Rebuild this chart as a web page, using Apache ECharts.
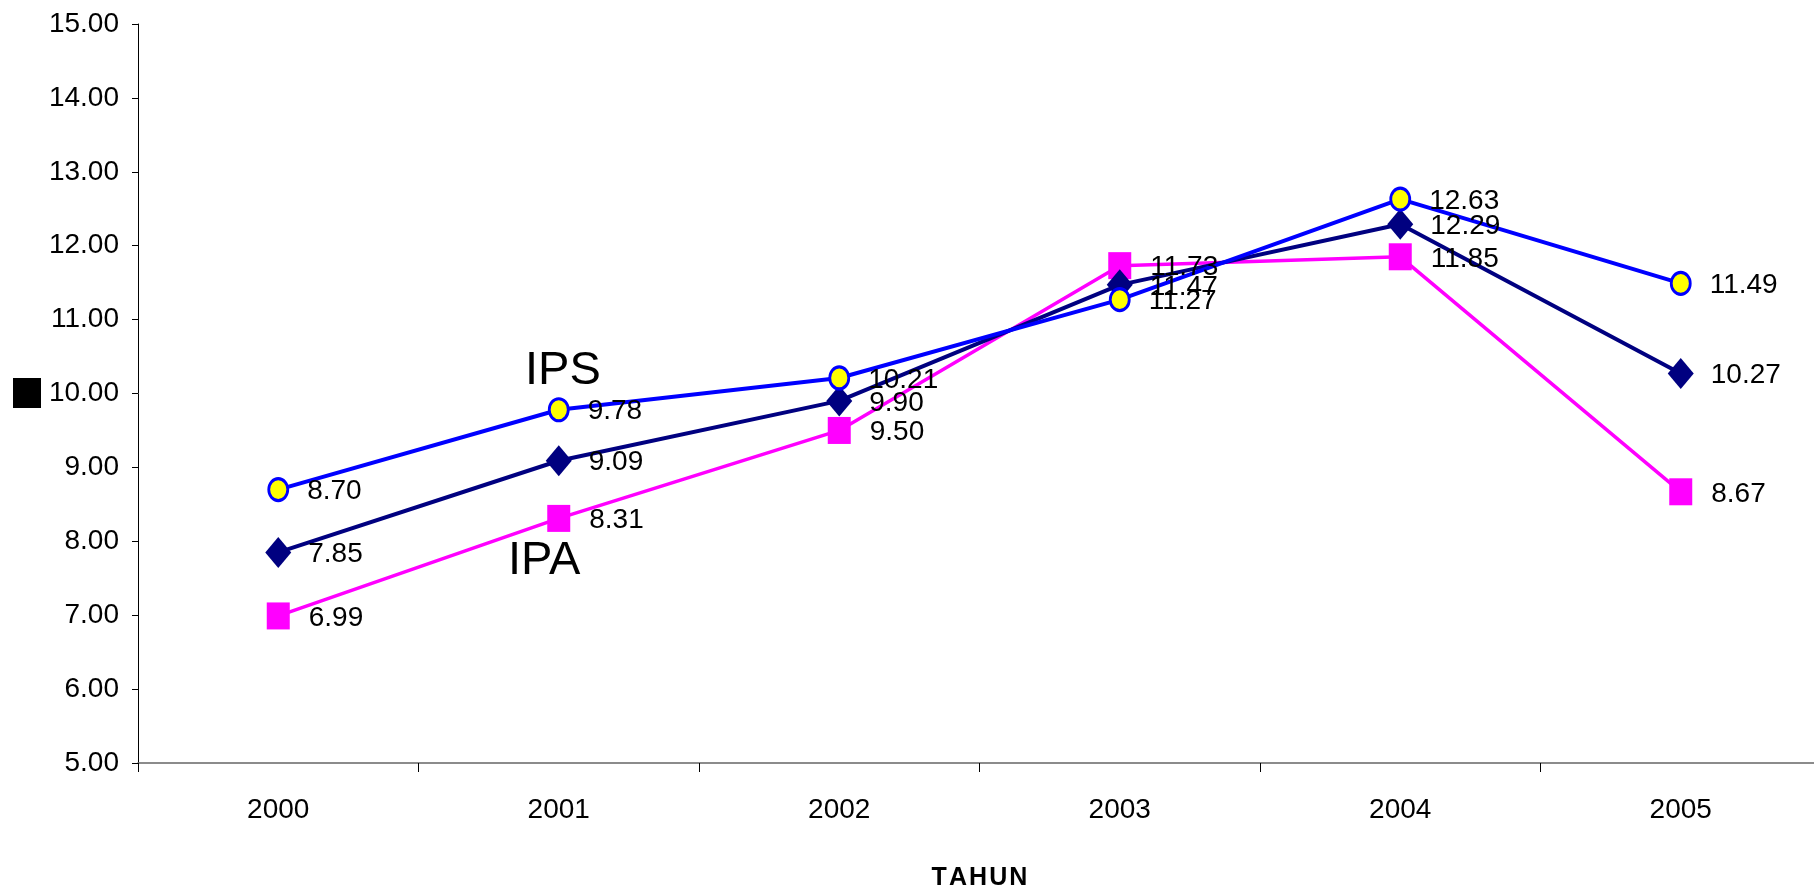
<!DOCTYPE html>
<html style="height: 100%">
<head>
    <meta charset="utf-8">
    <title>TAHUN</title>
    <style>
        body { margin: 0; height: 100%; background: #fff; }
        #chart { width: 1814px; height: 893px; }
    </style>
</head>
<body>
<div id="chart"></div>
<script src="https://cdn.jsdelivr.net/npm/echarts@6/dist/echarts.min.js"></script>
<script>
    // data
    const years = ['2000', '2001', '2002', '2003', '2004', '2005'];
    const ips = [8.70, 9.78, 10.21, 11.27, 12.63, 11.49];
    const total = [7.85, 9.09, 9.90, 11.47, 12.29, 10.27];
    const ipa = [6.99, 8.31, 9.50, 11.73, 11.85, 8.67];

    const FONT = '"Liberation Sans", Arial, sans-serif';

    const chart = echarts.init(document.getElementById('chart'));

    const labelStyle = (dist) => ({
        show: true,
        position: 'right',
        distance: dist,
        offset: [0, 2],
        color: '#000',
        fontFamily: FONT,
        fontSize: 28,
        formatter: p => p.value.toFixed(2)
    });

    chart.setOption({
        animation: false,
        grid: { left: 138, width: 1683, top: 24, height: 739, outerBoundsMode: 'none' },
        xAxis: {
            type: 'category',
            data: years,
            boundaryGap: true,
            name: 'T\u200aA\u200aH\u200aU\u200aN',
            nameLocation: 'middle',
            nameGap: 103,
            nameTextStyle: { fontFamily: FONT, fontWeight: 'bold', fontSize: 25, color: '#000' },
            axisLine: { lineStyle: { color: '#666', width: 1.5 } },
            axisTick: { show: true, length: 9, lineStyle: { color: '#000' } },
            axisLabel: { margin: 33, color: '#000', fontFamily: FONT, fontSize: 28 }
        },
        yAxis: {
            type: 'value',
            min: 5,
            max: 15,
            interval: 1,
            splitLine: { show: false },
            axisLine: { show: true, lineStyle: { color: '#000', width: 1 } },
            axisTick: { show: true, length: 6, lineStyle: { color: '#000' } },
            axisLabel: {
                margin: 19, color: '#000', fontFamily: FONT, fontSize: 28,
                formatter: v => v.toFixed(2)
            }
        },
        series: [
            {
                name: 'IPA',
                type: 'line',
                data: ipa,
                symbol: 'rect',
                symbolSize: [23, 27],
                lineStyle: { color: '#ff00ff', width: 3.5 },
                itemStyle: { color: '#ff00ff' },
                label: labelStyle(19)
            },
            {
                name: 'Total',
                type: 'line',
                data: total,
                symbol: 'diamond',
                symbolSize: [26, 31],
                lineStyle: { color: '#000080', width: 4 },
                itemStyle: { color: '#000080' },
                label: labelStyle(17)
            },
            {
                name: 'IPS',
                type: 'line',
                data: ips,
                symbol: 'circle',
                symbolSize: [19, 22],
                lineStyle: { color: '#0000ff', width: 4 },
                itemStyle: { color: '#ffff00', borderColor: '#0000ff', borderWidth: 3 },
                label: labelStyle(18)
            }
        ],
        graphic: [
            { type: 'rect', left: 13, top: 378, shape: { width: 28, height: 30 }, style: { fill: '#000' } },
            { type: 'text', left: 525, top: 348, style: { text: 'IPS', fontFamily: FONT, fontSize: 47, fill: '#000' } },
            { type: 'text', left: 508, top: 538, style: { text: 'IPA', fontFamily: FONT, fontSize: 47, fill: '#000' } }
        ]
    });
</script>
</body>
</html>
